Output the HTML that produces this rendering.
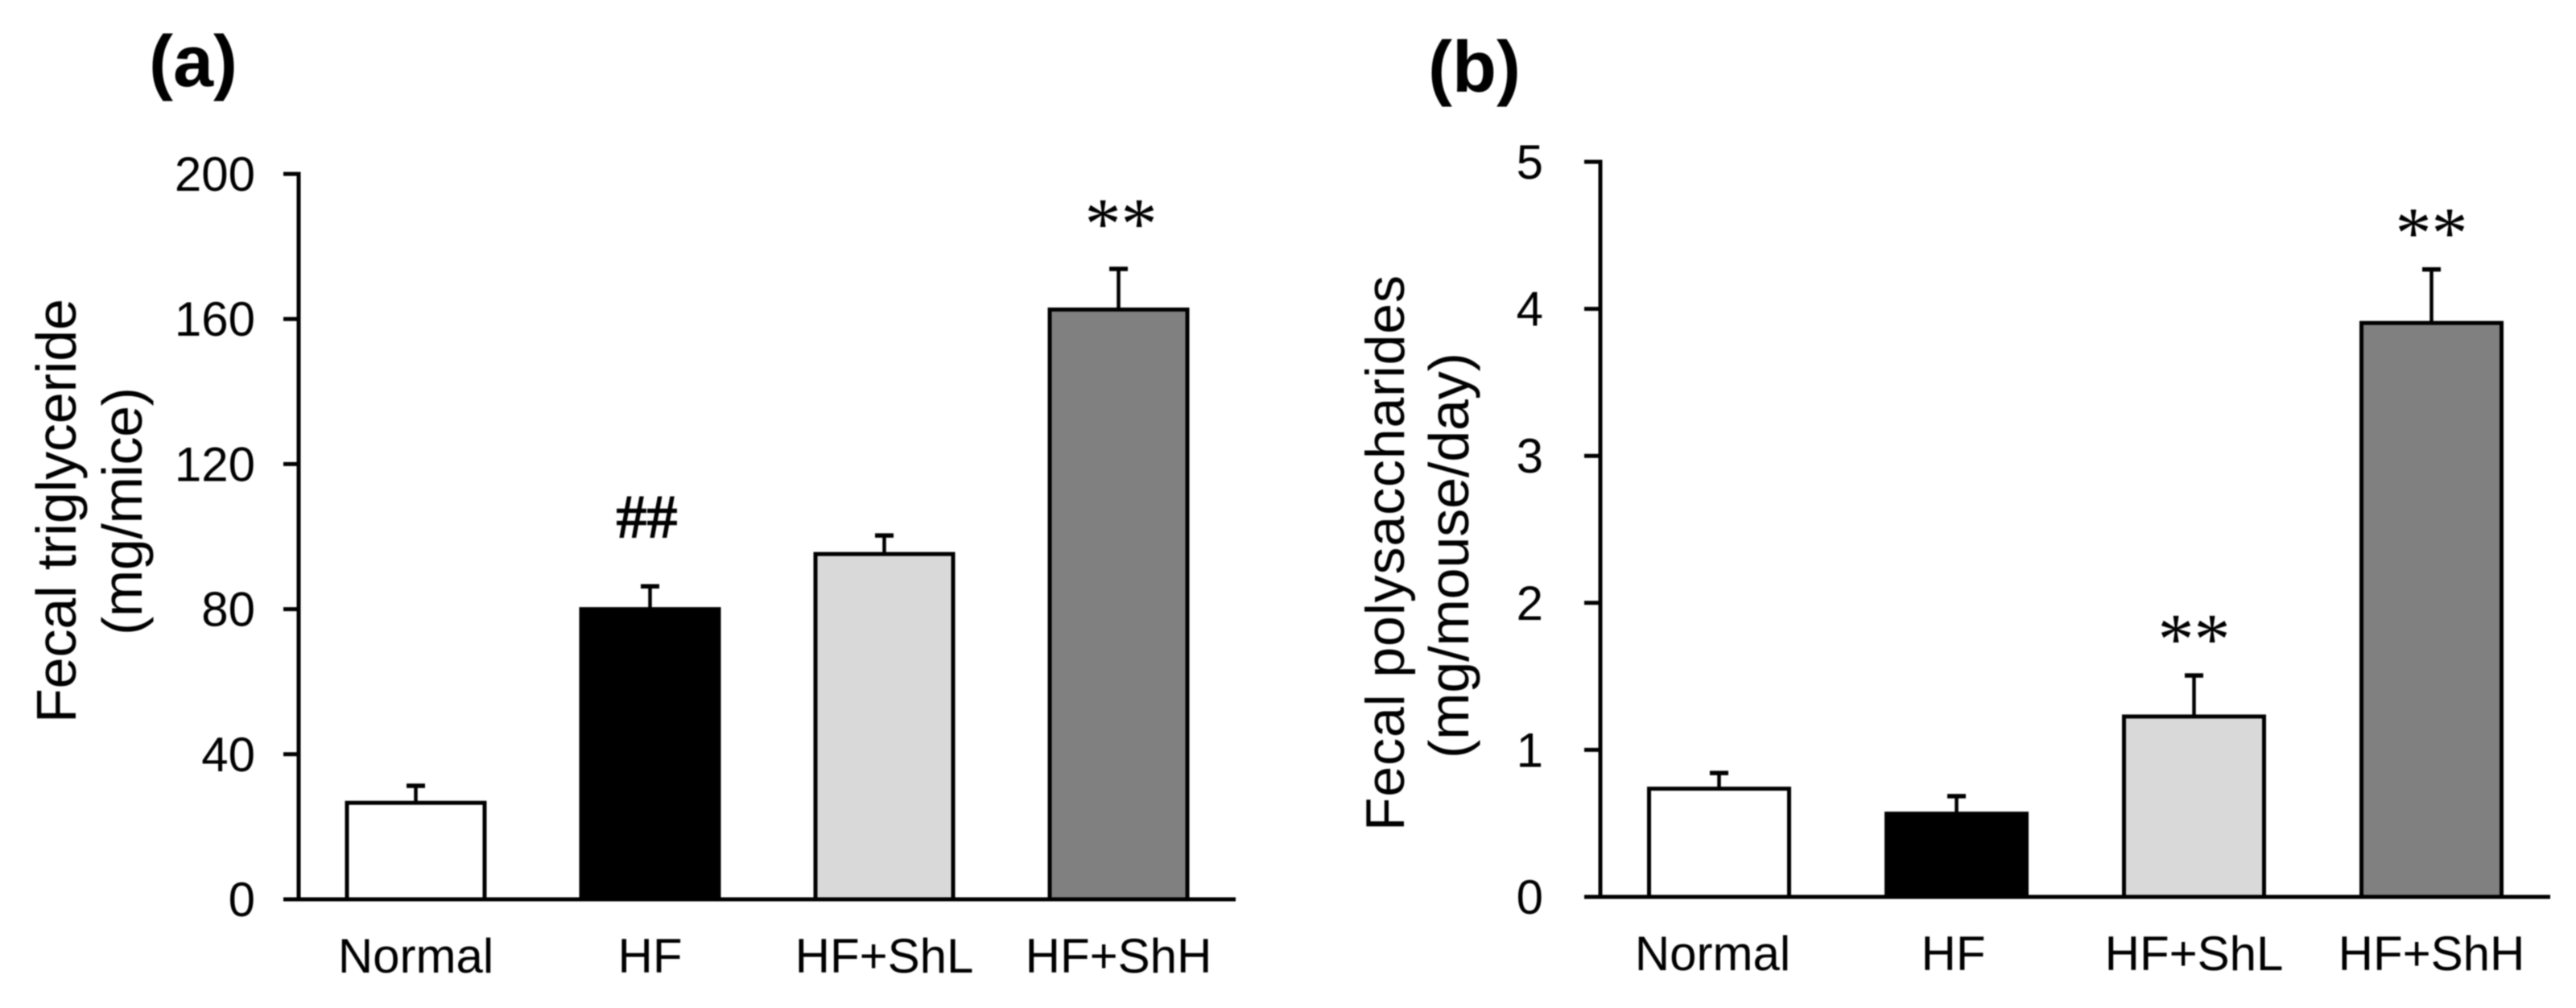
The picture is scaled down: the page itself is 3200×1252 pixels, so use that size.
<!DOCTYPE html>
<html lang="en">
<head>
<meta charset="utf-8">
<title>Fecal triglyceride and polysaccharides</title>
<style>
  html, body { margin: 0; padding: 0; background: #fff; width: 3200px; height: 1252px; overflow: hidden; }
  svg { display: block; filter: blur(0.9px); }
  text { font-family: "Liberation Sans", Arial, sans-serif; fill: #000; }
  .sig { font-family: "Liberation Serif", "Times New Roman", serif; }
  .hash { stroke: #000; stroke-width: 1.6px; }
  .panel-label { font-weight: bold; }
</style>
</head>
<body>
<svg id="figure" xmlns="http://www.w3.org/2000/svg" width="3200" height="1252" viewBox="0 0 3200 1252">
  <rect x="0" y="0" width="3200" height="1252" fill="#ffffff"></rect>
</svg>
<script>
// Data
const categories = ['Normal', 'HF', 'HF+ShL', 'HF+ShH'];
const triglycerideValues = [26.6, 80, 95.2, 162.6];
const triglycerideErrors = [4.7, 6.3, 5.1, 11.2];
const triglycerideTicks = [0, 40, 80, 120, 160, 200];
const triglycerideSig = ['', '##', '', '**'];
const polysaccharideValues = [0.736, 0.566, 1.227, 3.904];
const polysaccharideErrors = [0.107, 0.119, 0.279, 0.364];
const polysaccharideTicks = [0, 1, 2, 3, 4, 5];
const polysaccharideSig = ['', '', '**', '**'];
const barFills = ['#ffffff', '#000000', '#d9d9d9', '#808080'];

const svgNS = 'http://www.w3.org/2000/svg';
const root = document.getElementById('figure');

function add(parent, tag, attrs, text) {
  const el = document.createElementNS(svgNS, tag);
  for (const k in attrs) el.setAttribute(k, attrs[k]);
  if (text !== undefined) el.textContent = text;
  parent.appendChild(el);
  return el;
}

function slug(s) {
  return s.toLowerCase().replace(/\+/g, '-').replace(/[^a-z0-9-]/g, '');
}

function drawPanel(p) {
  const g = add(root, 'g', {});
  
  

  const yMax = p.ticks[p.ticks.length - 1];
  const yScale = v => p.y0 - (v / yMax) * (p.y0 - p.yTop);
  const band = (p.xEnd - p.xAxis) / p.categories.length;
  const xScale = i => p.xAxis + band * (i + 0.5);

  // panel label
  const panelLabel = add(g, 'text', { class: 'panel-label', x: p.labelX, y: p.labelY, 'font-size': 90 }, '(' + p.id + ')');
  
  

  // y titles
  const title1 = add(g, 'text', { transform: 'translate(' + p.title1X + ',' + p.title1Y + ') rotate(-90)', 'text-anchor': 'middle', 'font-size': p.title1Size, textLength: p.title1Len, lengthAdjust: 'spacing' }, p.title1);
  
  
  const title2 = add(g, 'text', { transform: 'translate(' + p.title2X + ',' + p.title2Y + ') rotate(-90)', 'text-anchor': 'middle', 'font-size': 70, textLength: p.title2Len, lengthAdjust: 'spacing' }, p.title2);
  
  

  // bars and error bars
  p.values.forEach((v, i) => {
    const cx = xScale(i);
    const top = yScale(v);
    const capY = yScale(v + p.errors[i]);
    const name = slug(p.categories[i]);

    const stem = add(g, 'line', { x1: cx, x2: cx, y1: top, y2: capY, stroke: '#000', 'stroke-width': 4.5 });
    
    
    const cap = add(g, 'line', { x1: cx - 11.5, x2: cx + 11.5, y1: capY, y2: capY, stroke: '#000', 'stroke-width': 5.5 });
    
    

    const bar = add(g, 'rect', { x: cx - p.barW / 2, y: top, width: p.barW, height: p.y0 - top, fill: barFills[i], stroke: '#000', 'stroke-width': 5 });
    
    

    // category label
    const nudge = (p.id === 'b' && i === 0) ? -8 : (p.id === 'b' && i === 1) ? -4 : 0;
    const label = add(g, 'text', { x: cx + nudge, y: p.xLabelY, 'text-anchor': 'middle', 'font-size': 60 }, p.categories[i]);
    
    

    // significance mark
    const sig = p.sig[i];
    if (sig) {
      const isHash = sig.charAt(0) === '#';
      const mark = add(g, 'text', {
        class: isHash ? 'sig hash' : 'sig',
        x: cx + (isHash ? p.hashDx : p.starDx),
        y: capY - (isHash ? p.hashGap : p.starGap),
        'text-anchor': 'middle',
        'font-size': isHash ? 76 : 90
      }, sig);
      
      
    }
  });

  // axes
  const yAxis = add(g, 'line', { x1: p.xAxis, x2: p.xAxis, y1: yScale(yMax) - 2.5, y2: p.y0, stroke: '#000', 'stroke-width': 5 });
  
  
  const xAxis = add(g, 'line', { x1: p.xTick, x2: p.xEnd, y1: p.y0, y2: p.y0, stroke: '#000', 'stroke-width': 5 });
  
  

  // ticks
  p.ticks.forEach(t => {
    const y = yScale(t);
    const tick = add(g, 'line', { x1: p.xTick, x2: p.xAxis, y1: y, y2: y, stroke: '#000', 'stroke-width': 5 });
    
    
    const lab = add(g, 'text', { x: p.yLabelX, y: y + 21, 'text-anchor': 'end', 'font-size': 60 }, String(t));
    
    
  });
}

drawPanel({
  id: 'a', categories: categories, values: triglycerideValues, errors: triglycerideErrors,
  ticks: triglycerideTicks, sig: triglycerideSig,
  xAxis: 371, xTick: 352, xEnd: 1535, y0: 1117, yTop: 216, barW: 171,
  yLabelX: 317, xLabelY: 1208,
  labelX: 185, labelY: 107,
  title1: 'Fecal triglyceride', title1X: 94, title1Y: 634.5, title1Size: 70, title1Len: 527,
  title2: '(mg/mice)', title2X: 176, title2Y: 635, title2Len: 308,
  starGap: 26, starDx: 3, hashGap: 61, hashDx: -4
});

drawPanel({
  id: 'b', categories: categories, values: polysaccharideValues, errors: polysaccharideErrors,
  ticks: polysaccharideTicks, sig: polysaccharideSig,
  xAxis: 1988, xTick: 1968, xEnd: 3168, y0: 1114, yTop: 201, barW: 174,
  yLabelX: 1917, xLabelY: 1205,
  labelX: 1774, labelY: 114,
  title1: 'Fecal polysaccharides', title1X: 1744, title1Y: 687, title1Size: 68, title1Len: 690,
  title2: '(mg/mouse/day)', title2X: 1824, title2Y: 690, title2Len: 504,
  starGap: 15, starDx: 0, hashGap: 61, hashDx: 0
});
</script>
</body>
</html>
